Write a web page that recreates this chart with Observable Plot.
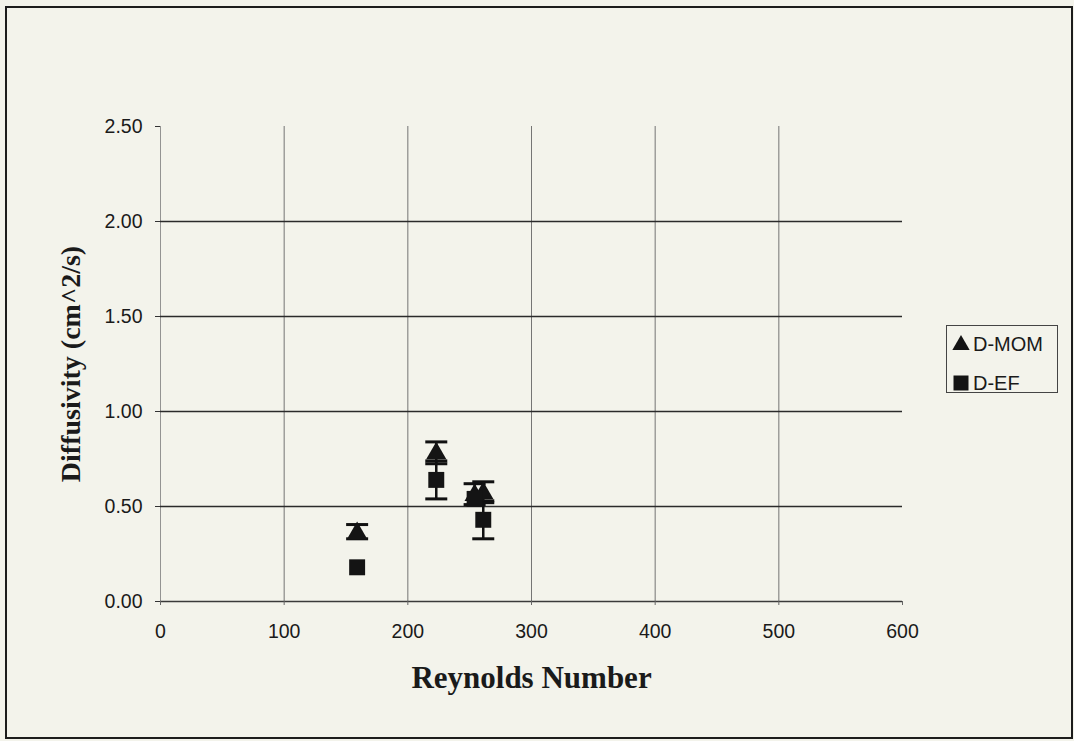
<!DOCTYPE html>
<html>
<head>
<meta charset="utf-8">
<script src="https://cdn.jsdelivr.net/npm/d3@7"></script>
<script src="https://cdn.jsdelivr.net/npm/@observablehq/plot@0.6"></script>
<style>
  html, body { margin: 0; padding: 0; background: #f3f3eb; }
  #wrap { position: relative; width: 1074px; height: 741px; background: #f3f3eb; overflow: hidden; }
  #frame { position: absolute; left: 5px; top: 6px; width: 1064px; height: 729px; border: 2.5px solid #1c1c1c; box-sizing: content-box; pointer-events: none; }
  #legend { position: absolute; left: 946px; top: 325px; width: 112px; height: 68px; border: 1px solid #444; box-sizing: border-box;
            font-family: "Liberation Sans", Arial, sans-serif; font-size: 20px; color: #1a1a1a; }
  .item { position: absolute; left: 4px; display: flex; align-items: center; height: 24px; }
  .item svg { margin-right: 2px; }
  svg.plot text { fill: #1a1a1a; }
  g[aria-label="y-axis tick label"], g[aria-label="x-axis tick label"] { font-size: 19.5px !important; }
  g[aria-label="y-axis label"] text, g[aria-label="x-axis label"] text { font-family: "Liberation Serif", "Times New Roman", serif; font-weight: bold; }
</style>
</head>
<body>
<div id="wrap"><div id="frame"></div><div id="legend"></div></div>
<script>
// Data
const reynolds = [159, 223, 254, 261];
const dMom = [0.36, 0.78, 0.56, 0.57];
const dMomErrUp = [0.045, 0.06, 0.06, 0.06];
const dMomErrDown = [0.03, 0.055, 0.05, 0.05];
const dEf = [0.18, 0.64, 0.54, 0.43];
const dEfErrUp = [0, 0.10, 0, 0.10];
const dEfErrDown = [0, 0.10, 0, 0.10];
const seriesNames = ["D-MOM", "D-EF"];
const xTicks = [0, 100, 200, 300, 400, 500, 600];
const yTicks = [0, 0.5, 1.0, 1.5, 2.0, 2.5];

const rows = [];
reynolds.forEach((re, i) => {
  rows.push({re, series: "D-MOM", v: dMom[i], up: dMomErrUp[i], down: dMomErrDown[i]});
  rows.push({re, series: "D-EF", v: dEf[i], up: dEfErrUp[i], down: dEfErrDown[i]});
});
const errRows = rows.filter(d => d.up > 0 || d.down > 0);

const capSymbol = {
  draw(ctx, size) {
    const w = Math.sqrt(size / Math.PI);
    ctx.moveTo(-w, 0);
    ctx.lineTo(w, 0);
  }
};

const chart = Plot.plot({
  width: 1074,
  height: 741,
  marginLeft: 160,
  marginRight: 172,
  marginTop: 126,
  marginBottom: 140,
  style: {background: "transparent", fontFamily: "Liberation Sans, Arial, sans-serif", fontSize: "19.5px"},
  x: {domain: [0, 600]},
  y: {domain: [0, 2.5]},
  marks: [
    Plot.ruleX(xTicks.filter(d => d > 0 && d < 600), {stroke: "#666", strokeWidth: 0.9}),
    Plot.ruleX([0], {stroke: "#888", strokeWidth: 0.9}),
    Plot.ruleY(yTicks.filter(d => d > 0 && d < 2.5), {stroke: "#2a2a2a", strokeWidth: 1.3}),
    Plot.ruleY([0], {stroke: "#3a3a3a", strokeWidth: 1.3}),
    Plot.axisX({ticks: xTicks, tickSize: 4, tickPadding: 19, stroke: "#666",
      label: "Reynolds Number", labelAnchor: "center", labelArrow: "none", labelOffset: 86}),
    Plot.axisY({ticks: yTicks, tickSize: 5, tickPadding: 13, tickFormat: d3.format(".2f"),
      stroke: "#333", label: "Diffusivity (cm^2/s)", labelAnchor: "center", labelArrow: "none", labelOffset: 100}),
    Plot.ruleX(errRows, {x: "re", y1: d => d.v - d.down, y2: d => d.v + d.up, stroke: "#111", strokeWidth: 2.5}),
    Plot.dot(errRows, {x: "re", y: d => d.v + d.up, symbol: capSymbol, r: 11, stroke: "#111", strokeWidth: 3}),
    Plot.dot(errRows, {x: "re", y: d => d.v - d.down, symbol: capSymbol, r: 11, stroke: "#111", strokeWidth: 3}),
    Plot.dot(rows.filter(d => d.series === "D-MOM"), {x: "re", y: "v", symbol: "triangle", r: 7.5, fill: "#141414", stroke: "none"}),
    Plot.dot(rows.filter(d => d.series === "D-EF"), {x: "re", y: "v", symbol: "square", r: 9, fill: "#141414", stroke: "none"})
  ]
});
chart.classList.add("plot");
document.getElementById("wrap").appendChild(chart);

// Style axis titles
chart.querySelectorAll('g[aria-label="y-axis label"] text').forEach(t => t.setAttribute("font-size", "28"));
chart.querySelectorAll('g[aria-label="x-axis label"] text').forEach(t => t.setAttribute("font-size", "31"));

// Legend
const legend = document.getElementById("legend");
seriesNames.forEach((name, i) => {
  const item = document.createElement("div");
  item.className = "item";
  item.style.top = (i === 0 ? 6 : 45) + "px";
  const s = d3.create("svg").attr("width", 20).attr("height", 20);
  s.append("path").attr("transform", i === 0 ? "translate(10,11)" : "translate(10,10)")
    .attr("d", d3.symbol(i === 0 ? d3.symbolTriangle : d3.symbolSquare, i === 0 ? 130 : 225)())
    .attr("fill", "#141414");
  item.appendChild(s.node());
  const label = document.createElement("span");
  label.textContent = name;
  item.appendChild(label);
  legend.appendChild(item);
});
</script>
</body>
</html>
